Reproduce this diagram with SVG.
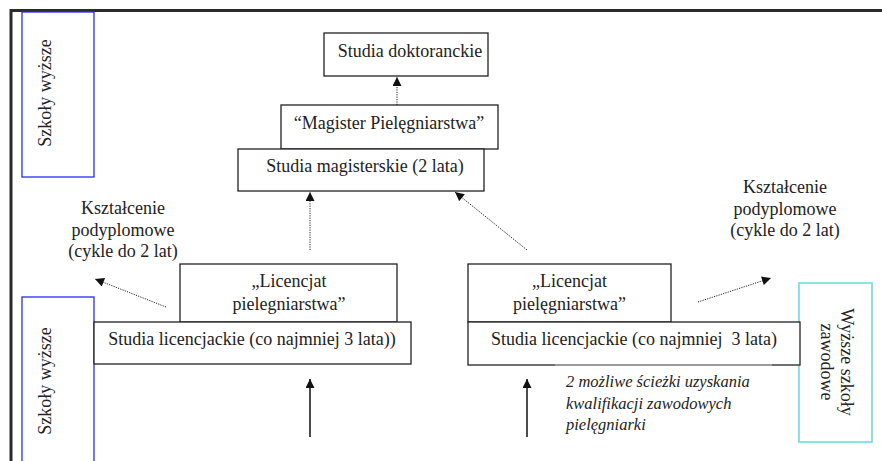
<svg xmlns="http://www.w3.org/2000/svg" width="882" height="461" viewBox="0 0 882 461" font-family="'Liberation Serif', 'DejaVu Serif', serif">
<defs>
<style>
text{font-family:'Liberation Serif','DejaVu Serif',serif;font-size:18px;fill:#222;}
.c{text-anchor:middle;}
.it{font-style:italic;font-size:16.5px;}
.box{fill:#fff;stroke:#222;stroke-width:1.3;}
.blue{fill:#fff;stroke:#2a2aff;stroke-width:1.3;}
.cyan{fill:#fff;stroke:#70dcdc;stroke-width:1.6;}
.dot{stroke:#222;stroke-width:1;stroke-dasharray:1.2 1.2;fill:none;}
.sol{stroke:#111;stroke-width:1.5;fill:none;}
</style>
<marker id="ah" viewBox="0 0 10 10" refX="10" refY="5" markerWidth="10" markerHeight="9" markerUnits="userSpaceOnUse" orient="auto">
<path d="M0,0 L10,5 L0,10 z" fill="#111"/>
</marker>
</defs>
<rect width="882" height="461" fill="#fff"/>
<path d="M11 461 V10.5 H882" fill="none" stroke="#2b2b2b" stroke-width="3"/>

<g id="szkoly-wyzsze-top">
<rect class="blue" x="22" y="12" width="72" height="165"/>
<text class="c" transform="translate(51 93) rotate(-90)">Szkoły wyższe</text>
</g>

<g id="szkoly-wyzsze-bottom">
<rect class="blue" x="22" y="297" width="72" height="170"/>
<text class="c" transform="translate(51 381) rotate(-90)">Szkoły wyższe</text>
</g>

<g id="wyzsze-szkoly-zawodowe">
<rect class="cyan" x="799" y="283" width="73" height="159"/>
<text class="c" transform="translate(841 362) rotate(90)">Wyższe szkoły</text>
<text class="c" transform="translate(821 362) rotate(90)">zawodowe</text>
</g>

<g id="studia-doktoranckie">
<rect class="box" x="324" y="33" width="164" height="43"/>
<text class="c" x="410" y="57">Studia doktoranckie</text>
</g>

<g id="magister">
<rect class="box" x="281" y="105" width="217" height="44"/>
<text class="c" x="389" y="129">“Magister Pielęgniarstwa”</text>
</g>

<g id="studia-magisterskie">
<rect class="box" x="238" y="149" width="246" height="42"/>
<text class="c" x="365" y="172">Studia magisterskie (2 lata)</text>
</g>

<g id="licencjat-left">
<rect class="box" x="180" y="264" width="217" height="58"/>
<text class="c" x="289" y="287">„Licencjat</text>
<text class="c" x="289" y="310">pielegniarstwa”</text>
</g>

<g id="studia-licencjackie-left">
<rect class="box" x="94" y="322" width="317" height="42"/>
<text class="c" x="252" y="345">Studia licencjackie (co najmniej 3 lata))</text>
</g>

<g id="licencjat-right">
<rect class="box" x="468" y="264" width="203" height="58"/>
<text class="c" x="569.5" y="287">„Licencjat</text>
<text class="c" x="569.5" y="310">pielęgniarstwa”</text>
</g>

<g id="studia-licencjackie-right">
<rect class="box" x="468" y="322" width="332" height="43"/>
<line x1="555" y1="365" x2="772" y2="365" stroke="#aaa" stroke-width="1.6"/>
<text class="c" x="634" y="345" xml:space="preserve">Studia licencjackie (co najmniej  3 lata)</text>
</g>

<g id="ksztalcenie-left">
<text class="c" x="123" y="214">Kształcenie</text>
<text class="c" x="123" y="236">podyplomowe</text>
<text class="c" x="123" y="257">(cykle do 2 lat)</text>
</g>

<g id="ksztalcenie-right">
<text class="c" x="785" y="193">Kształcenie</text>
<text class="c" x="785" y="215">podyplomowe</text>
<text class="c" x="785" y="236">(cykle do 2 lat)</text>
</g>

<g id="note">
<text class="it" x="566" y="387">2 możliwe ścieżki uzyskania</text>
<text class="it" x="566" y="409">kwalifikacji zawodowych</text>
<text class="it" x="566" y="430">pielęgniarki</text>
</g>

<g id="connectors">
<line class="dot" x1="397" y1="105" x2="397" y2="77" marker-end="url(#ah)"/>
<line class="dot" x1="310" y1="250" x2="310" y2="192" marker-end="url(#ah)"/>
<line class="dot" x1="527" y1="250" x2="455" y2="192" marker-end="url(#ah)"/>
<line class="dot" x1="166" y1="307" x2="95" y2="279" marker-end="url(#ah)"/>
<line class="dot" x1="698" y1="302" x2="771" y2="278" marker-end="url(#ah)"/>
<line class="sol" x1="310" y1="437" x2="310" y2="379" marker-end="url(#ah)"/>
<line class="sol" x1="527" y1="437" x2="527" y2="379" marker-end="url(#ah)"/>
</g>
</svg>
